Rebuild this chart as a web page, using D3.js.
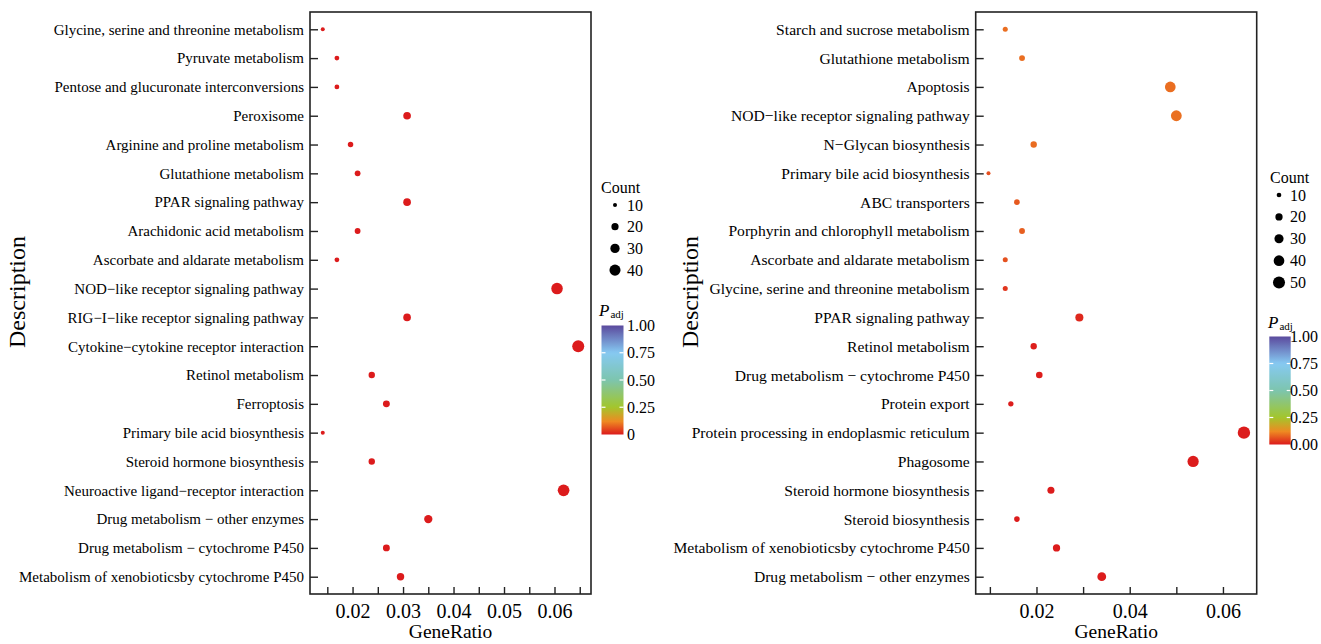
<!DOCTYPE html>
<html>
<head>
<meta charset="utf-8">
<script src="https://cdn.jsdelivr.net/npm/d3@7"></script>
<style>
  html, body { margin: 0; padding: 0; background: #fff; }
  svg { display: block; font-family: "Liberation Serif", "Times New Roman", serif; }
</style>
</head>
<body>
<svg id="chart" width="1321" height="644"></svg>
<script>
// ---- KEGG enrichment, panel A ----
const leftTerms = [
  "Glycine, serine and threonine metabolism",
  "Pyruvate metabolism",
  "Pentose and glucuronate interconversions",
  "Peroxisome",
  "Arginine and proline metabolism",
  "Glutathione metabolism",
  "PPAR signaling pathway",
  "Arachidonic acid metabolism",
  "Ascorbate and aldarate metabolism",
  "NOD\u2212like receptor signaling pathway",
  "RIG\u2212I\u2212like receptor signaling pathway",
  "Cytokine\u2212cytokine receptor interaction",
  "Retinol metabolism",
  "Ferroptosis",
  "Primary bile acid biosynthesis",
  "Steroid hormone biosynthesis",
  "Neuroactive ligand\u2212receptor interaction",
  "Drug metabolism \u2212 other enzymes",
  "Drug metabolism \u2212 cytochrome P450",
  "Metabolism of xenobioticsby cytochrome P450"
];
const leftRatio = [0.0141, 0.0169, 0.0169, 0.0308, 0.0196, 0.0210, 0.0308, 0.0210, 0.0169, 0.0605,
                   0.0308, 0.0647, 0.0238, 0.0267, 0.0141, 0.0238, 0.0618, 0.0350, 0.0267, 0.0295];
const leftCount = [10, 12, 12, 22, 14, 15, 22, 15, 12, 43, 22, 46, 17, 19, 10, 17, 44, 25, 19, 21];
const leftPadj  = [0.002, 0.001, 0.001, 0.001, 0.001, 0.001, 0.001, 0.001, 0.001, 0.001,
                   0.001, 0.001, 0.001, 0.001, 0.002, 0.001, 0.001, 0.001, 0.001, 0.001];

// ---- KEGG enrichment, panel B ----
const rightTerms = [
  "Starch and sucrose metabolism",
  "Glutathione metabolism",
  "Apoptosis",
  "NOD\u2212like receptor signaling pathway",
  "N\u2212Glycan biosynthesis",
  "Primary bile acid biosynthesis",
  "ABC transporters",
  "Porphyrin and chlorophyll metabolism",
  "Ascorbate and aldarate metabolism",
  "Glycine, serine and threonine metabolism",
  "PPAR signaling pathway",
  "Retinol metabolism",
  "Drug metabolism \u2212 cytochrome P450",
  "Protein export",
  "Protein processing in endoplasmic reticulum",
  "Phagosome",
  "Steroid hormone biosynthesis",
  "Steroid biosynthesis",
  "Metabolism of xenobioticsby cytochrome P450",
  "Drug metabolism \u2212 other enzymes"
];
const rightRatio = [0.0133, 0.0169, 0.0487, 0.0500, 0.0194, 0.0097, 0.0158, 0.0169, 0.0133, 0.0133,
                    0.0292, 0.0194, 0.0206, 0.0145, 0.0645, 0.0536, 0.0231, 0.0158, 0.0243, 0.0340];
const rightCount = [11, 14, 40, 41, 16, 8, 13, 14, 11, 11, 24, 16, 17, 12, 53, 44, 19, 13, 20, 28];
const rightPadj  = [0.090, 0.090, 0.090, 0.092, 0.088, 0.057, 0.068, 0.074, 0.059, 0.030,
                    0.015, 0.005, 0.004, 0.003, 0.002, 0.002, 0.002, 0.002, 0.002, 0.002];

// ---- tick and legend labels ----
const leftTicks  = [0.015, 0.02, 0.025, 0.03, 0.035, 0.04, 0.045, 0.05, 0.055, 0.06, 0.065];
const leftTickLabels = ["", "0.02", "", "0.03", "", "0.04", "", "0.05", "", "0.06", ""];
const rightTicks = [0.01, 0.02, 0.03, 0.04, 0.05, 0.06];
const rightTickLabels = ["", "0.02", "", "0.04", "", "0.06"];
const leftCountBreaks  = [10, 20, 30, 40];
const rightCountBreaks = [10, 20, 30, 40, 50];
const padjBreaks = [0, 0.25, 0.5, 0.75, 1];
const leftPadjLabels  = ["0", "0.25", "0.50", "0.75", "1.00"];
const rightPadjLabels = ["0.00", "0.25", "0.50", "0.75", "1.00"];

// colour ramp for adjusted p-value
const padjStops  = [0, 0.12, 0.25, 0.5, 0.75, 1];
const padjColors = ["#dc1a1c", "#ee8a22", "#a3c62c", "#7dc5ae", "#86c9f2", "#5b4a9d"];
const colour = d3.scaleLinear().domain(padjStops).range(padjColors).interpolate(d3.interpolateRgb);

const svg = d3.select("#chart");
const defs = svg.append("defs");

function drawPanel(cfg) {
  const { terms, ratio, count, padj, x0, x1, y0, y1, domain, ticks, tickLabels,
          sizeDomain, sizeRange, yTitleX, labelSize, legend } = cfg;
  const rows = terms.map((t, i) => ({ term: t, ratio: ratio[i], count: count[i], padj: padj[i] }));

  const x = d3.scaleLinear().domain(domain).range([x0, x1]);
  const y = d3.scalePoint().domain(terms).range([y0, y1]).padding(0.6);
  const r = d3.scaleRadial().domain(sizeDomain).range(sizeRange);

  const g = svg.append("g");

  // points
  g.append("g").selectAll("circle").data(rows).join("circle")
    .attr("cx", d => x(d.ratio))
    .attr("cy", d => y(d.term))
    .attr("r", d => r(d.count))
    .attr("fill", d => colour(d.padj));

  // y axis (ticks pointing inward)
  const ya = g.append("g").attr("transform", `translate(${x0},0)`)
    .call(d3.axisLeft(y).tickSize(-8).tickPadding(6));
  ya.select(".domain").remove();
  ya.selectAll("text").attr("font-size", labelSize).attr("fill", "#000")
    .attr("font-family", "Liberation Serif");
  ya.selectAll("line").attr("stroke", "#222").attr("stroke-width", 1.4);

  // x axis
  const labelOf = new Map(ticks.map((t, i) => [t, tickLabels[i]]));
  const xa = g.append("g").attr("transform", `translate(0,${y1})`)
    .call(d3.axisBottom(x).tickValues(ticks).tickSize(-7).tickPadding(10)
      .tickFormat(v => labelOf.get(v)));
  xa.select(".domain").remove();
  xa.selectAll("text").attr("font-size", 20).attr("fill", "#000")
    .attr("font-family", "Liberation Serif");
  xa.selectAll("line").attr("stroke", "#222").attr("stroke-width", 1.4);

  // panel border
  g.append("rect").attr("x", x0).attr("y", y0).attr("width", x1 - x0).attr("height", y1 - y0)
    .attr("fill", "none").attr("stroke", "#222").attr("stroke-width", 1.6);

  // axis titles
  g.append("text").attr("x", (x0 + x1) / 2).attr("y", 638).attr("text-anchor", "middle")
    .attr("font-size", 19.5).text("GeneRatio");
  g.append("text").attr("transform", `translate(${yTitleX},292) rotate(-90)`)
    .attr("text-anchor", "middle").attr("font-size", 24).text("Description");

  // size legend
  const L = legend;
  g.append("text").attr("x", L.x).attr("y", L.countTitleY).attr("font-size", 16)
    .attr("dominant-baseline", "central").text("Count");
  const sl = g.append("g").selectAll("g").data(L.countBreaks).join("g")
    .attr("transform", (d, i) => `translate(0,${L.countY0 + i * L.countStep})`);
  sl.append("circle").attr("cx", L.dotX).attr("cy", 0).attr("r", d => r(d)).attr("fill", "#000");
  sl.append("text").attr("x", L.labelX).attr("y", 0).attr("dominant-baseline", "central")
    .attr("font-size", 16).text(d => d);

  // colour legend
  const pt = g.append("text").attr("x", L.x - 2).attr("y", L.padjTitleY).attr("font-size", 17);
  pt.append("tspan").attr("font-style", "italic").text("P");
  pt.append("tspan").attr("font-size", 11).attr("dy", 2).attr("dx", 1).text("adj");

  const gid = "grad" + L.id;
  const grad = defs.append("linearGradient").attr("id", gid)
    .attr("x1", 0).attr("y1", 1).attr("x2", 0).attr("y2", 0);
  d3.range(0, 1.0001, 0.02).forEach(t => {
    grad.append("stop").attr("offset", t).attr("stop-color", colour(t));
  });
  const cb = d3.scaleLinear().domain([0, 1]).range([L.barBottom, L.barTop]);
  g.append("rect").attr("x", L.barX).attr("y", cb(1)).attr("width", L.barW)
    .attr("height", cb(0) - cb(1)).attr("fill", `url(#${gid})`);
  padjBreaks.slice(1, -1).forEach(b => {
    g.append("line").attr("x1", L.barX).attr("x2", L.barX + 4).attr("y1", cb(b)).attr("y2", cb(b))
      .attr("stroke", "#fff").attr("stroke-width", 1.2);
    g.append("line").attr("x1", L.barX + L.barW - 4).attr("x2", L.barX + L.barW)
      .attr("y1", cb(b)).attr("y2", cb(b)).attr("stroke", "#fff").attr("stroke-width", 1.2);
  });
  g.append("g").selectAll("text").data(padjBreaks).join("text")
    .attr("x", L.barLabelX).attr("y", d => cb(d)).attr("dominant-baseline", "central")
    .attr("font-size", 16).text((d, i) => L.padjLabels[i]);
}

function paddedExtent(vals) {
  const [lo, hi] = d3.extent(vals);
  const pad = (hi - lo) * 0.05;
  return [lo - pad, hi + pad];
}

drawPanel({
  terms: leftTerms, ratio: leftRatio, count: leftCount, padj: leftPadj,
  x0: 310, x1: 591, y0: 12, y1: 594,
  domain: paddedExtent(leftRatio),
  ticks: leftTicks, tickLabels: leftTickLabels,
  sizeDomain: [10, 46], sizeRange: [2, 6],
  yTitleX: 25, labelSize: 15,
  legend: {
    id: "A", x: 601, countTitleY: 187, countBreaks: leftCountBreaks,
    countY0: 205, countStep: 21.7, dotX: 615, labelX: 627,
    padjTitleY: 316, barX: 601.5, barW: 22, barTop: 325.5, barBottom: 434.5,
    barLabelX: 627, padjLabels: leftPadjLabels
  }
});

drawPanel({
  terms: rightTerms, ratio: rightRatio, count: rightCount, padj: rightPadj,
  x0: 975.7, x1: 1256.7, y0: 12, y1: 594,
  domain: paddedExtent(rightRatio),
  ticks: rightTicks, tickLabels: rightTickLabels,
  sizeDomain: [8, 53], sizeRange: [2, 6.2],
  yTitleX: 698, labelSize: 15.6,
  legend: {
    id: "B", x: 1270, countTitleY: 177, countBreaks: rightCountBreaks,
    countY0: 195, countStep: 21.9, dotX: 1279, labelX: 1290,
    padjTitleY: 328, barX: 1269.3, barW: 21.4, barTop: 336.5, barBottom: 444.5,
    barLabelX: 1290, padjLabels: rightPadjLabels
  }
});
</script>
</body>
</html>
